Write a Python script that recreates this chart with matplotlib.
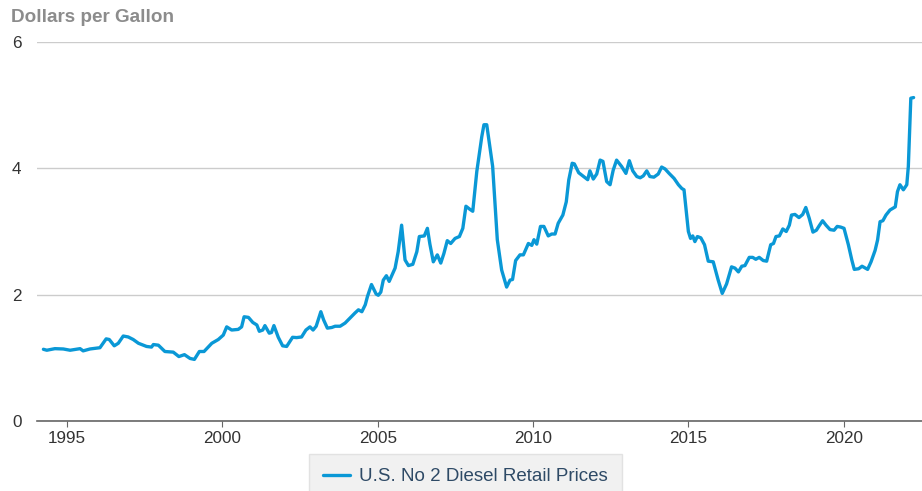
import matplotlib.pyplot as plt

plt.rcParams['font.family'] = ['Liberation Sans', 'DejaVu Sans']

# 柴油零售价（美元/加仑），按图上读数，横轴为小数年份
years = [
    1994.24, 1994.35, 1994.61, 1994.88, 1995.10, 1995.42, 1995.52, 1995.74,
    1996.06, 1996.26, 1996.36, 1996.52, 1996.65, 1996.81, 1996.97, 1997.13,
    1997.30, 1997.56, 1997.72, 1997.78, 1997.94, 1998.15, 1998.42, 1998.60,
    1998.78, 1998.96, 1999.10, 1999.26, 1999.41, 1999.66, 1999.87, 2000.03,
    2000.14, 2000.30, 2000.51, 2000.62, 2000.70, 2000.84, 2000.98, 2001.11,
    2001.19, 2001.30, 2001.37, 2001.51, 2001.58, 2001.66, 2001.80, 2001.94,
    2002.07, 2002.26, 2002.39, 2002.55, 2002.69, 2002.82, 2002.92, 2003.02,
    2003.17, 2003.26, 2003.38, 2003.52, 2003.63, 2003.79, 2003.95, 2004.11,
    2004.27, 2004.38, 2004.49, 2004.60, 2004.67, 2004.80, 2004.95, 2005.02,
    2005.10, 2005.18, 2005.28, 2005.37, 2005.56, 2005.66, 2005.77, 2005.88,
    2005.99, 2006.13, 2006.26, 2006.34, 2006.50, 2006.60, 2006.68, 2006.79,
    2006.92, 2007.03, 2007.13, 2007.24, 2007.35, 2007.49, 2007.63, 2007.74,
    2007.84, 2007.97, 2008.06, 2008.19, 2008.35, 2008.42, 2008.51, 2008.70,
    2008.77, 2008.85, 2008.99, 2009.15, 2009.26, 2009.34, 2009.44, 2009.58,
    2009.69, 2009.85, 2009.96, 2010.03, 2010.12, 2010.24, 2010.35, 2010.49,
    2010.60, 2010.71, 2010.81, 2010.96, 2011.07, 2011.15, 2011.26, 2011.33,
    2011.47, 2011.63, 2011.76, 2011.83, 2011.94, 2012.05, 2012.16, 2012.25,
    2012.37, 2012.48, 2012.58, 2012.69, 2012.85, 2012.99, 2013.10, 2013.21,
    2013.34, 2013.45, 2013.55, 2013.66, 2013.76, 2013.89, 2014.03, 2014.14,
    2014.25, 2014.38, 2014.54, 2014.68, 2014.79, 2014.86, 2014.94, 2015.00,
    2015.07, 2015.14, 2015.21, 2015.29, 2015.40, 2015.52, 2015.64, 2015.80,
    2015.96, 2016.09, 2016.23, 2016.39, 2016.50, 2016.61, 2016.72, 2016.82,
    2016.96, 2017.07, 2017.17, 2017.28, 2017.41, 2017.52, 2017.65, 2017.74,
    2017.82, 2017.93, 2018.04, 2018.15, 2018.25, 2018.32, 2018.43, 2018.56,
    2018.68, 2018.78, 2018.89, 2019.01, 2019.12, 2019.21, 2019.32, 2019.43,
    2019.56, 2019.69, 2019.79, 2019.90, 2020.01, 2020.15, 2020.26, 2020.34,
    2020.48, 2020.59, 2020.77, 2020.88, 2021.01, 2021.09, 2021.17, 2021.26,
    2021.36, 2021.49, 2021.66, 2021.73, 2021.81, 2021.92, 2022.03, 2022.08,
    2022.16, 2022.25,
]
prices = [
    1.135, 1.12, 1.145, 1.14, 1.12, 1.145, 1.11, 1.14,
    1.16, 1.30, 1.29, 1.19, 1.23, 1.345, 1.33, 1.29,
    1.23, 1.18, 1.17, 1.21, 1.20, 1.10, 1.09, 1.02,
    1.05, 0.99, 0.975, 1.10, 1.10, 1.23, 1.29, 1.36,
    1.49, 1.44, 1.45, 1.49, 1.65, 1.64, 1.56, 1.52,
    1.42, 1.44, 1.51, 1.39, 1.40, 1.51, 1.325, 1.19,
    1.18, 1.325, 1.32, 1.33, 1.44, 1.49, 1.44, 1.50,
    1.73, 1.60, 1.47, 1.48, 1.50, 1.50, 1.55, 1.63,
    1.71, 1.76, 1.73, 1.84, 1.97, 2.16, 2.01, 1.99,
    2.04, 2.23, 2.30, 2.21, 2.42, 2.68, 3.10, 2.55,
    2.46, 2.48, 2.68, 2.92, 2.93, 3.05, 2.80, 2.52,
    2.63, 2.50, 2.65, 2.855, 2.81, 2.89, 2.92, 3.05,
    3.40, 3.35, 3.32, 3.95, 4.50, 4.69, 4.69, 4.03,
    3.50, 2.87, 2.39, 2.12, 2.23, 2.24, 2.54, 2.63,
    2.63, 2.81, 2.78, 2.87, 2.80, 3.08, 3.08, 2.93,
    2.96, 2.96, 3.13, 3.26, 3.47, 3.815, 4.08, 4.07,
    3.93, 3.87, 3.82, 3.96, 3.83, 3.91, 4.13, 4.11,
    3.79, 3.74, 3.97, 4.13, 4.03, 3.92, 4.12, 3.96,
    3.87, 3.85, 3.88, 3.96, 3.87, 3.86, 3.91, 4.02,
    3.99, 3.92, 3.84, 3.74, 3.68, 3.66, 3.29, 3.00,
    2.89, 2.93, 2.84, 2.92, 2.90, 2.79, 2.53, 2.52,
    2.23, 2.02, 2.17, 2.44, 2.42, 2.36, 2.45, 2.46,
    2.59, 2.59, 2.56, 2.59, 2.54, 2.53, 2.79, 2.81,
    2.92, 2.93, 3.04, 3.00, 3.10, 3.26, 3.27, 3.22,
    3.27, 3.38, 3.21, 2.99, 3.02, 3.09, 3.17, 3.10,
    3.03, 3.02, 3.08, 3.07, 3.05, 2.79, 2.55, 2.40,
    2.41, 2.45, 2.40, 2.52, 2.70, 2.865, 3.155, 3.17,
    3.26, 3.34, 3.39, 3.63, 3.74, 3.66, 3.74, 4.03,
    5.11, 5.12,
]
xticks = [1995, 2000, 2005, 2010, 2015, 2020]
yticks = [0, 2, 4, 6]
series_name = 'U.S. No 2 Diesel Retail Prices'

fig = plt.figure(figsize=(9.22, 4.91), dpi=100)
ax = fig.add_axes([0.040, 0.1426, 0.960, 0.7719])

ax.plot(years, prices, color='#0a98d6', linewidth=2.4,
        solid_joinstyle='round', solid_capstyle='round', label=series_name)

ax.set_xlim(1994.03, 2022.52)
ax.set_ylim(0, 6)
ax.set_xticks(xticks)
ax.set_yticks(yticks)

# 网格与坐标轴样式
ax.grid(axis='y', color='#cccccc', linewidth=1.0)
ax.set_axisbelow(True)
for s in ['left', 'right', 'top']:
    ax.spines[s].set_visible(False)
ax.spines['bottom'].set_color('#666666')
ax.spines['bottom'].set_linewidth(1.2)
ax.tick_params(axis='x', length=4, color='#666666', labelsize=12.3,
               labelcolor='#333333', pad=3)
ax.tick_params(axis='y', length=0, labelsize=12.3, labelcolor='#333333', pad=11)

fig.text(0.012, 0.955, 'Dollars per Gallon', fontsize=13.6, fontweight='bold',
         color='#8c8c8c', ha='left', va='baseline')

leg = fig.legend(loc='upper center', bbox_to_anchor=(0.505, 0.0754),
                 frameon=True, fancybox=False, fontsize=13.5, borderaxespad=0,
                 handlelength=1.4, handletextpad=0.5, borderpad=0.75)
leg.get_frame().set_facecolor('#eeeeee')
leg.get_frame().set_edgecolor('#dddddd')
for t in leg.get_texts():
    t.set_color('#2e4a66')

plt.savefig('out.png', dpi=100)
plt.close()
